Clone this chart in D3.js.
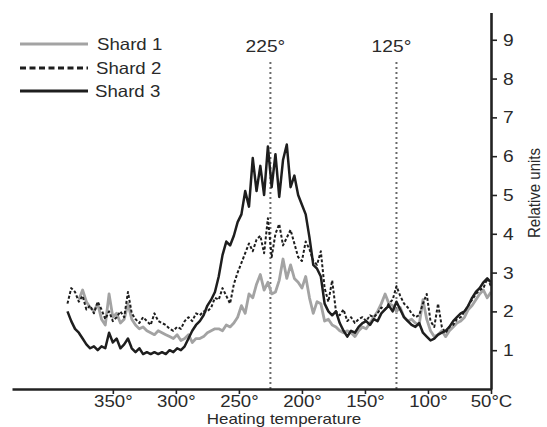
<!DOCTYPE html>
<html>
<head>
<meta charset="utf-8">
<script src="https://cdn.jsdelivr.net/npm/d3@7/dist/d3.min.js"></script>
<style>
  html, body { margin: 0; padding: 0; background: #fff; }
  svg { display: block; }
  text { font-family: "Liberation Sans", Arial, sans-serif; fill: #2a2a2a; }
</style>
</head>
<body>
<svg id="chart" width="547" height="427"></svg>
<script>
// ---- data ----
const temperatures = [
  386,383,380,377,374,371,368,365,362,359,
  356,353,350,347,344,341,338,335,332,329,
  326,323,320,317,314,311,308,305,302,299,
  296,293,290,287,284,281,278,275,272,269,
  266,263,260,257,254,251,248,245,242,239,
  236,233,230,227,224,221,218,215,212,209,
  206,203,200,197,194,191,188,185,182,179,
  176,173,170,167,164,161,158,155,152,149,
  146,143,140,137,134,131,128,125,122,119,
  116,113,110,107,104,101,98,95,92,89,
  86,83,80,77,74,71,68,65,62,59,
  56,53,50
];
const shard1 = [
  null,null,null,2.3,2.55,2.25,2.1,2.0,2.2,1.8,
  1.65,2.45,1.85,1.95,1.7,1.8,2.2,1.8,1.65,1.55,
  1.6,1.5,1.45,1.4,1.5,1.45,1.4,1.35,1.3,1.4,
  1.25,1.3,1.4,1.2,1.3,1.3,1.35,1.45,1.5,1.55,
  1.55,1.5,1.65,1.6,1.7,1.85,2.15,1.95,2.45,2.35,
  2.7,2.95,2.55,2.75,2.45,2.5,2.8,3.35,2.85,3.2,
  2.85,2.75,2.6,2.9,2.35,1.95,2.25,2.2,1.75,1.8,
  1.65,1.6,1.5,1.45,1.5,1.45,1.35,1.5,1.6,1.55,
  1.7,1.85,2.0,2.2,2.45,2.2,2.15,2.0,2.1,1.85,
  1.75,1.8,1.7,1.65,2.3,1.8,1.5,1.35,1.4,1.5,
  1.35,1.5,1.6,1.7,1.75,1.85,2.05,2.15,2.3,2.45,
  2.55,2.35,2.5
];
const shard2 = [
  2.2,2.6,2.5,2.25,2.4,2.05,2.15,1.95,2.25,2.05,
  1.8,2.0,1.75,1.85,2.0,1.85,2.5,1.95,1.8,1.7,
  1.85,1.75,1.65,1.95,1.75,1.7,1.65,1.55,1.5,1.6,
  1.55,1.75,1.85,1.75,1.95,1.9,2.0,2.0,2.1,2.35,
  2.3,2.6,2.4,2.2,2.7,3.0,3.25,3.5,3.75,3.55,
  3.85,3.95,3.5,4.4,3.4,4.0,4.25,3.7,3.9,4.1,
  3.75,3.4,3.3,3.8,3.6,3.3,3.2,3.55,2.6,2.25,
  2.8,2.0,1.9,2.05,1.75,1.85,1.7,1.8,1.85,1.75,
  1.9,1.85,1.95,2.1,2.05,2.2,2.3,2.65,2.4,2.2,
  2.1,1.95,1.85,1.9,2.2,2.45,1.75,1.6,2.2,1.6,
  1.45,1.6,1.65,1.8,1.85,2.0,2.15,2.3,2.45,2.55,
  2.6,2.85,2.65
];
const shard3 = [
  2.0,1.75,1.55,1.45,1.3,1.15,1.05,1.1,1.0,1.1,
  1.05,1.45,1.2,1.3,1.05,1.15,1.3,1.05,0.95,1.05,
  0.9,0.95,0.9,0.95,0.9,0.95,0.9,1.0,0.95,1.05,
  1.0,1.1,1.3,1.5,1.65,1.75,1.9,2.15,2.3,2.5,
  2.9,3.45,3.8,3.7,3.95,4.3,4.5,5.1,4.7,5.95,
  5.1,5.75,5.0,6.25,5.2,6.05,4.95,5.9,6.3,5.2,
  5.5,5.0,4.75,4.5,3.9,3.2,3.1,2.9,2.2,2.0,
  1.9,2.0,1.7,1.5,1.35,1.5,1.45,1.6,1.7,1.75,
  1.65,1.8,1.75,1.95,2.05,2.15,2.0,2.25,2.05,1.85,
  1.75,1.65,1.6,1.7,1.45,1.35,1.25,1.3,1.4,1.45,
  1.5,1.6,1.75,1.85,1.95,2.0,2.15,2.35,2.5,2.6,
  2.75,2.85,2.75
];
const seriesNames = ["Shard 1", "Shard 2", "Shard 3"];
const xTickValues = [350, 300, 250, 200, 150, 100, 50];
const yTickValues = [1, 2, 3, 4, 5, 6, 7, 8, 9];
const markerTemps = [225, 125];
const xTitle = "Heating temperature";
const yTitle = "Relative units";

// ---- layout ----
const SX = 1.13; // horizontal stretch of the reference lettering
const svg = d3.select("#chart");
const x = d3.scaleLinear().domain([430, 50]).range([12, 491]);
const y = d3.scaleLinear().domain([0, 9.7]).range([389, 12.6]);

const styles = [
  { stroke: "#a3a3a3", width: 2.8, dash: null, legendDash: null },
  { stroke: "#1e1e1e", width: 2.0, dash: "3,2", legendDash: "6,3.5" },
  { stroke: "#1e1e1e", width: 2.5, dash: null, legendDash: null }
];
const allSeries = [shard1, shard2, shard3];

// marker dotted lines
markerTemps.forEach(t => {
  svg.append("line")
    .attr("x1", x(t)).attr("x2", x(t))
    .attr("y1", 62).attr("y2", y(0))
    .attr("stroke", "#6a6a6a").attr("stroke-width", 2)
    .attr("stroke-dasharray", "2,3");
  svg.append("text")
    .attr("transform", `translate(${x(t) - 5},52) scale(${SX},1)`)
    .attr("text-anchor", "middle")
    .style("font-size", "17px")
    .text(t + "°");
});

// series lines
const line = d3.line()
  .defined(d => d[1] != null)
  .x(d => x(d[0]))
  .y(d => y(d[1]));

allSeries.forEach((vals, i) => {
  const pts = temperatures.map((t, j) => [t, vals[j]]);
  svg.append("path")
    .datum(pts)
    .attr("fill", "none")
    .attr("stroke", styles[i].stroke)
    .attr("stroke-width", styles[i].width)
    .attr("stroke-linejoin", "round")
    .attr("stroke-dasharray", styles[i].dash)
    .attr("d", line);
});

// x axis
const xAxis = d3.axisBottom(x)
  .tickValues(xTickValues)
  .tickSize(5).tickSizeOuter(0).tickPadding(1)
  .tickFormat(d => d === 50 ? "50°C" : d + "°");
const gx = svg.append("g").attr("transform", `translate(0,${y(0)})`).call(xAxis);
gx.select(".domain").attr("stroke", "#222").attr("stroke-width", 2.6);
gx.selectAll(".tick line").attr("stroke", "#222").attr("stroke-width", 1.6);
gx.selectAll(".tick text")
  .attr("transform", `scale(${SX},1)`)
  .style("font-size", "16.5px").style("font-family", "Liberation Sans, Arial, sans-serif")
  .attr("fill", "#2a2a2a");

// y axis (right)
const yAxis = d3.axisRight(y)
  .tickValues(yTickValues)
  .tickSize(6).tickSizeOuter(0).tickPadding(4.6)
  .tickFormat(d3.format("d"));
const gy = svg.append("g").attr("transform", `translate(${x(50)},0)`).call(yAxis);
gy.select(".domain").attr("stroke", "#222").attr("stroke-width", 2.6);
gy.selectAll(".tick line").attr("stroke", "#222").attr("stroke-width", 1.6);
gy.selectAll(".tick text")
  .attr("transform", `scale(${SX},1)`)
  .style("font-size", "17px").style("font-family", "Liberation Sans, Arial, sans-serif")
  .attr("fill", "#2a2a2a");

// axis titles
svg.append("text")
  .attr("transform", `translate(284,423.6) scale(${SX},1)`)
  .attr("text-anchor", "middle")
  .style("font-size", "15px")
  .text(xTitle);
svg.append("text")
  .attr("transform", `translate(540,193) scale(${SX},1) rotate(-90)`)
  .attr("text-anchor", "middle")
  .style("font-size", "15px")
  .text(yTitle);

// legend
const legendY = [44, 68, 91];
seriesNames.forEach((name, i) => {
  svg.append("line")
    .attr("x1", 20).attr("x2", 88)
    .attr("y1", legendY[i]).attr("y2", legendY[i])
    .attr("stroke", styles[i].stroke)
    .attr("stroke-width", i === 0 ? 3 : 2.8)
    .attr("stroke-dasharray", styles[i].legendDash);
  svg.append("text")
    .attr("transform", `translate(${97 - i},${legendY[i] + 5.5}) scale(${SX},1)`)
    .style("font-size", "16.5px")
    .text(name);
});
</script>
</body>
</html>
